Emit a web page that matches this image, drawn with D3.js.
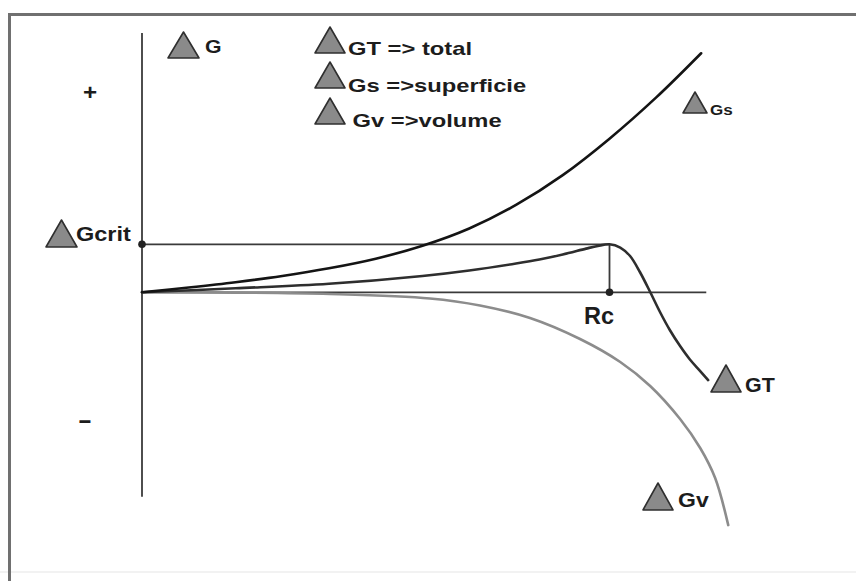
<!DOCTYPE html>
<html>
<head>
<meta charset="utf-8">
<script src="https://cdn.jsdelivr.net/npm/d3@7"></script>
<style>
  html, body { margin: 0; padding: 0; background: #ffffff; }
  svg { display: block; }
  text { font-family: "Liberation Sans", Arial, sans-serif; font-weight: bold; fill: #1c1c1c; }
</style>
</head>
<body>
<script>
// Free energy of nucleation vs. radius (r in units where Rc = 10, G in units of Gcrit)
const rGs = [0, 1, 2, 3, 4, 5, 6, 7, 8, 9, 10, 11, 11.96];
const gsValues = [0, 0.10, 0.21, 0.34, 0.50, 0.70, 0.97, 1.33, 1.82, 2.44, 3.20, 4.06, 4.98];

const rGt = [0, 2, 4, 6, 7, 8, 8.5, 9, 9.5, 9.75, 10, 10.23, 10.44, 10.65, 10.87, 11.08, 11.29, 11.51, 11.72, 11.94, 12.11];
const gtValues = [0, 0.083, 0.177, 0.34, 0.455, 0.60, 0.683, 0.787, 0.91, 0.966, 1.0, 0.933, 0.756, 0.423, 0.006, -0.41, -0.785, -1.12, -1.40, -1.64, -1.83];

const rGv = [0, 2.01, 4.02, 6.16, 7.23, 8.30, 9.37, 10.23, 10.87, 11.51, 11.94, 12.26, 12.54];
const gvValues = [0, -0.006, -0.035, -0.129, -0.275, -0.535, -0.973, -1.452, -1.952, -2.64, -3.244, -3.869, -4.85];

const rCritical = 10;      // Rc
const gCritical = 1;       // Gcrit
const rAxisMax = 12.07;
const gAxisRange = [-4.26, 5.4];

const legendItems = ["GT => total", "Gs =>superficie", "Gv =>volume"];

const W = 856, H = 581;
const svg = d3.select("body").append("svg").attr("width", W).attr("height", H);

const x = d3.scaleLinear().domain([0, rCritical]).range([142, 609.5]);
const y = d3.scaleLinear().domain([0, gCritical]).range([292.3, 244.3]);

// outer frame
svg.append("line").attr("x1", 0).attr("x2", W).attr("y1", 572).attr("y2", 572)
  .attr("stroke", "#f2f2f2").attr("stroke-width", 2);
svg.append("path").attr("d", `M9.5,${H} V14.5 H${W}`)
  .attr("fill", "none").attr("stroke", "#707070").attr("stroke-width", 3);

const axisColor = "#3a3a3a";
// vertical G axis
svg.append("line").attr("x1", x(0)).attr("x2", x(0))
  .attr("y1", y(gAxisRange[1])).attr("y2", y(gAxisRange[0]))
  .attr("stroke", axisColor).attr("stroke-width", 1.8);
// r axis at G = 0
svg.append("line").attr("x1", x(0)).attr("x2", x(rAxisMax))
  .attr("y1", y(0)).attr("y2", y(0))
  .attr("stroke", axisColor).attr("stroke-width", 1.8);
// Gcrit guide and Rc drop line
svg.append("line").attr("x1", x(0)).attr("x2", x(rCritical))
  .attr("y1", y(gCritical)).attr("y2", y(gCritical))
  .attr("stroke", axisColor).attr("stroke-width", 1.8);
svg.append("line").attr("x1", x(rCritical)).attr("x2", x(rCritical))
  .attr("y1", y(gCritical)).attr("y2", y(0))
  .attr("stroke", axisColor).attr("stroke-width", 1.8);
svg.append("circle").attr("cx", x(0)).attr("cy", y(gCritical)).attr("r", 3.8).attr("fill", "#222");
svg.append("circle").attr("cx", x(rCritical)).attr("cy", y(0)).attr("r", 3.8).attr("fill", "#222");

const line = d3.line().x(d => x(d[0])).y(d => y(d[1])).curve(d3.curveCatmullRom.alpha(0.5));
const series = [
  { r: rGv, g: gvValues, color: "#8c8c8c" },
  { r: rGt, g: gtValues, color: "#2e2e2e" },
  { r: rGs, g: gsValues, color: "#141414" }
];
series.forEach(s => {
  svg.append("path").datum(d3.zip(s.r, s.g)).attr("d", line)
    .attr("fill", "none").attr("stroke", s.color).attr("stroke-width", 2.6)
    .attr("stroke-linecap", "round").attr("stroke-linejoin", "round");
});

// delta (triangle) glyph
function delta(left, bottom, w, h) {
  svg.append("path")
    .attr("d", `M${left},${bottom} L${left + w / 2},${bottom - h} L${left + w},${bottom} Z`)
    .attr("fill", "#8a8a8a").attr("stroke", "#2f2f2f").attr("stroke-width", 1.6)
    .attr("stroke-linejoin", "round");
}
function label(px, py, txt, size, sx, anchor) {
  svg.append("text").attr("transform", `translate(${px},${py}) scale(${sx},1)`)
    .attr("font-size", size).attr("text-anchor", anchor || "start").text(txt);
}

// sign markers
label(90, 100, "+", 22, 1.1, "middle");
label(85, 428, "-", 24, 1.8, "middle");

// axis title
delta(168, 58, 31, 26);
label(205, 53.3, "G", 18.5, 1.15);

// legend
legendItems.forEach((t, i) => {
  const base = [53, 88, 124][i];
  delta(315, base, 30, 26);
  label(i === 2 ? 352.5 : 348, [55, 91.5, 126.5][i], t, 19, 1.25);
});

// Gcrit
delta(46, 247, 31, 27);
label(76, 241, "Gcrit", 21, 1.12);

// Rc
label(584, 324, "Rc", 24, 0.98);

// curve tags
delta(683, 113, 24, 21);
label(710, 115, "Gs", 15.5, 1.1);
delta(711, 392, 30, 27);
label(745, 392, "GT", 19.5, 1.1);
delta(643, 510, 30, 27);
label(678, 506.7, "Gv", 20, 1.15);
</script>
</body>
</html>
